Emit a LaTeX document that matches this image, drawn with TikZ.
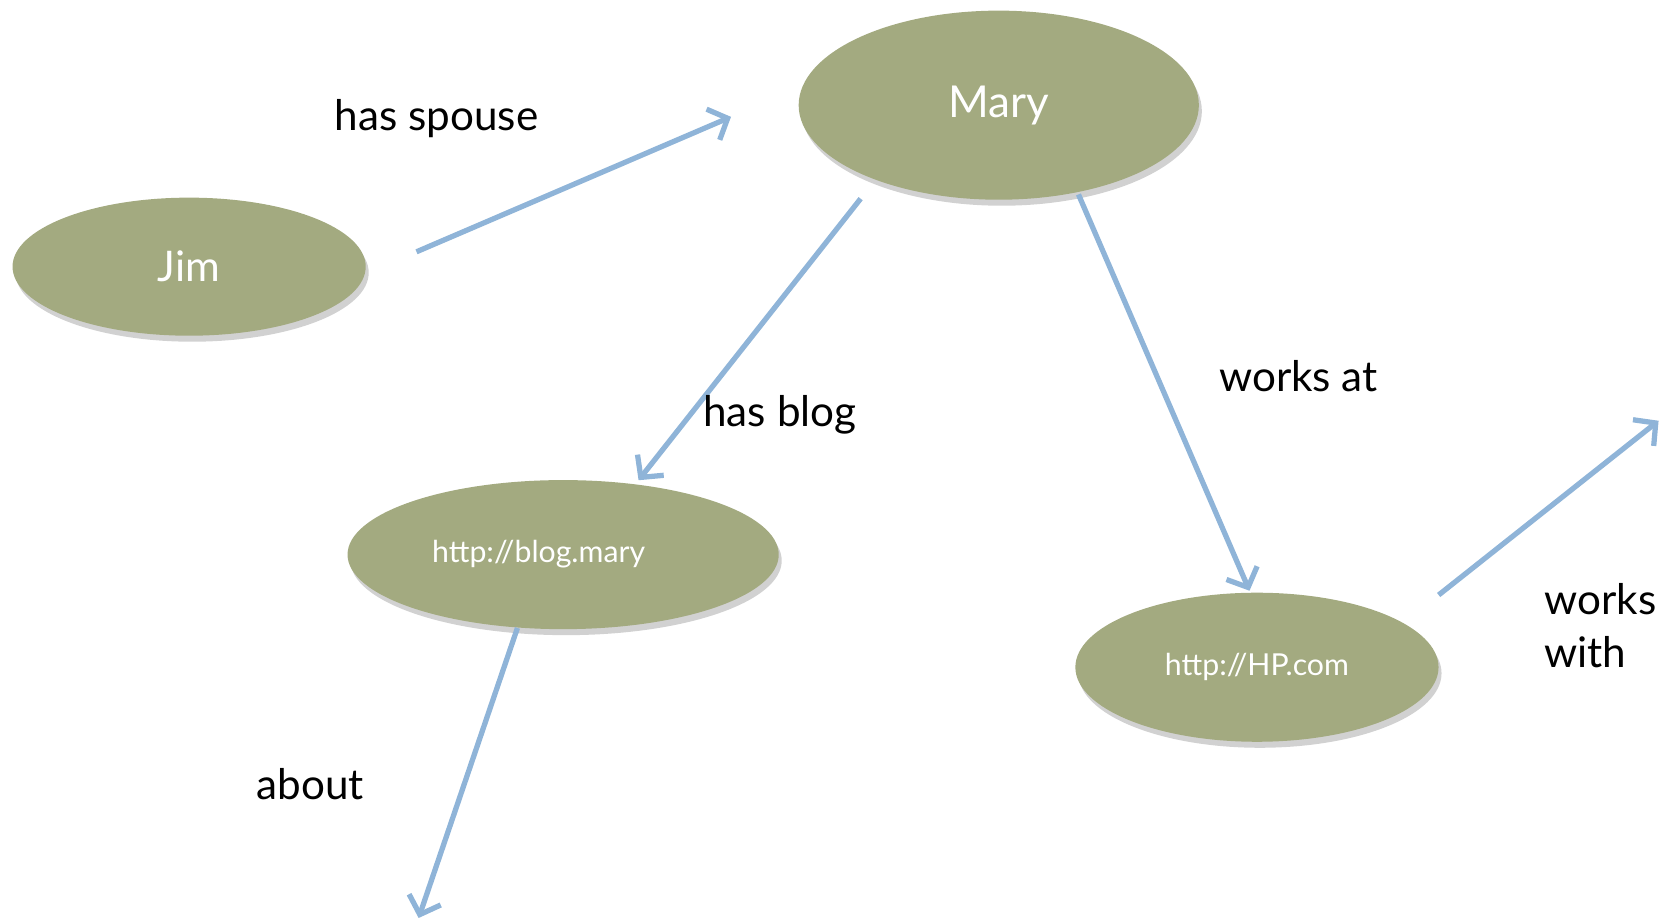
\documentclass[tikz,border=0pt]{standalone}
\usepackage{fontspec}
\setmainfont{Lato}
\usetikzlibrary{shapes.geometric,arrows.meta,shadows}
\definecolor{olive}{HTML}{A3AA80}
\definecolor{arrowblue}{HTML}{8FB4D8}
\tikzset{
  ell/.style={ellipse, fill=olive, draw=none, text=white, inner sep=0pt,
    drop shadow={shadow xshift=0.03cm, shadow yshift=-0.06cm, fill=black!40, opacity=0.45}},
  rel/.style={draw=arrowblue, line width=1.5pt, -{Straight Barb[length=4.5pt,width=9.5pt,line width=1.5pt]}},
  lbl/.style={font=\fontsize{12pt}{15pt}\selectfont, text=black, inner sep=0pt}
}
\begin{document}
\begin{tikzpicture}[x=0.010625cm,y=-0.010625cm]
\useasboundingbox (0,0) rectangle (1568,869);
\node[ell, minimum width=4.0cm, minimum height=1.89cm, font=\fontsize{12.5pt}{15pt}\selectfont] (mary) at (940,99) {\raisebox{-0.04cm}{Mary}};
\node[ell, minimum width=3.53cm, minimum height=1.38cm, font=\fontsize{12pt}{15pt}\selectfont] (jim) at (178,251) {Jim};
\node[ell, minimum width=4.31cm, minimum height=1.49cm, font=\fontsize{8.6pt}{10pt}\selectfont] (blog) at (530,522) {\hspace*{-0.49cm}\raisebox{-0.03cm}{http://blog.mary}};
\node[ell, minimum width=3.63cm, minimum height=1.49cm, font=\fontsize{8.6pt}{10pt}\selectfont] (hp) at (1183,628) {\raisebox{-0.03cm}{http://HP.com}};

\coordinate (a1s) at (392,237); \coordinate (a1e) at (688,110);
\coordinate (a2s) at (810,187); \coordinate (a2e) at (601,452);
\coordinate (a3s) at (1015,183); \coordinate (a3e) at (1176,556);
\coordinate (a4s) at (487,591); \coordinate (a4e) at (394,864);
\coordinate (a5s) at (1354,560); \coordinate (a5e) at (1561,396);

\draw[rel] (a1s) -- (a1e);
\draw[rel] (a2s) -- (a2e);
\draw[rel] (a3s) -- (a3e);
\draw[rel] (a4s) -- (a4e);
\draw[rel] (a5s) -- (a5e);

\node[lbl] (l1) at (411,112) {has spouse};
\node[lbl] (l2) at (734,390) {has blog};
\node[lbl] (l3) at (1222,354) {works at};
\node[lbl, align=left, anchor=west] (l4) at (1453,589) {works\\with};
\node[lbl] (l5) at (292,738) {about};
\end{tikzpicture}
\end{document}
